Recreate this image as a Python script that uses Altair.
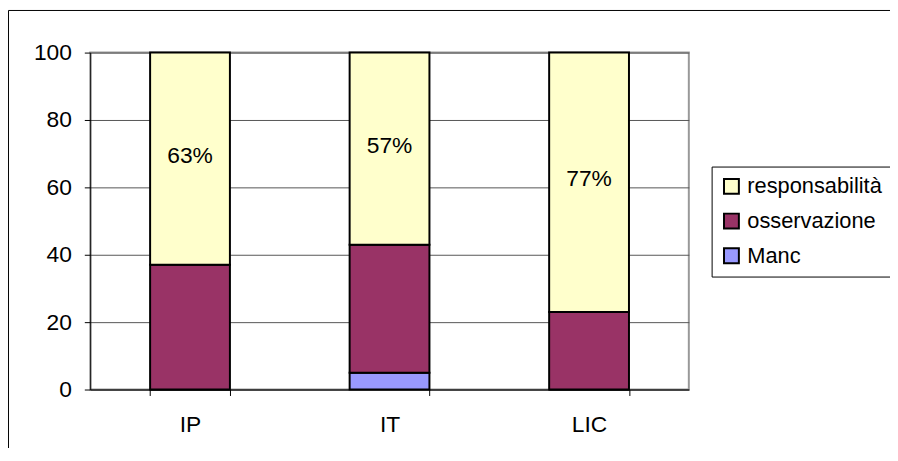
import altair as alt
import pandas as pd

categories = ["IP", "IT", "LIC"]
series = ["Manc", "osservazione", "responsabilità"]
manc = [0, 5, 0]
osservazione = [37, 38, 23]
responsabilita = [63, 57, 77]
y_ticks = [0, 20, 40, 60, 80, 100]

rows = []
for i, c in enumerate(categories):
    for k, (s, vals) in enumerate(zip(series, [manc, osservazione, responsabilita])):
        rows.append({"cat": c, "series": s, "value": vals[i], "ord": k})
df = pd.DataFrame(rows)

FONT = "Liberation Sans"
FS = 23
LFS = 22

legend_order = ["responsabilità", "osservazione", "Manc"]
colors = ["#FFFFCC", "#993366", "#9999FF"]

x_enc = alt.X(
    "cat:N",
    sort=categories,
    title=None,
    scale=alt.Scale(paddingInner=0.6, paddingOuter=0.3),
    axis=alt.Axis(
        labelAngle=0, tickBand="extent", tickSize=6, tickColor="black",
        domainColor="black", labelFont=FONT, labelFontSize=FS, labelColor="black",
        labelPadding=18, grid=False,
    ),
)

bars = alt.Chart(df).mark_bar(stroke="black", strokeWidth=2).encode(
    x=x_enc,
    y=alt.Y(
        "value:Q",
        stack="zero",
        title=None,
        scale=alt.Scale(domain=[0, 100], nice=False),
        axis=alt.Axis(
            values=y_ticks, tickSize=6, tickColor="black", domainColor="black",
            labelFont=FONT, labelFontSize=FS, labelColor="black", labelPadding=13,
            grid=True, gridColor="#555555", gridWidth=1,
        ),
    ),
    color=alt.Color(
        "series:N",
        scale=alt.Scale(domain=legend_order, range=colors),
        legend=alt.Legend(
            title=None, orient="none", legendX=627, legendY=115,
            symbolType="square", symbolSize=225, symbolStrokeColor="black",
            symbolStrokeWidth=2, symbolOpacity=1,
            labelFont=FONT, labelFontSize=LFS, labelColor="black", labelOffset=5,
            rowPadding=11, padding=9, strokeColor="black", fillColor="white",
            labelLimit=300,
        ),
    ),
    order=alt.Order("ord:Q", sort="ascending"),
)

labels = alt.Chart(df).transform_stack(
    stack="value", groupby=["cat"], sort=[alt.SortField("ord", order="ascending")],
    as_=["v0", "v1"],
).transform_filter(
    alt.datum.series == "responsabilità"
).transform_calculate(
    mid="(datum.v0 + datum.v1) / 2",
    lab="datum.value + '%'",
).mark_text(font=FONT, fontSize=FS, color="black", baseline="middle", dy=-3).encode(
    x=alt.X("cat:N", sort=categories),
    y=alt.Y("mid:Q"),
    text="lab:N",
)

frame = alt.Chart(pd.DataFrame({"a": [0]})).mark_rect(
    fillOpacity=0, stroke="black", strokeWidth=1
).encode(
    x=alt.value(-82.5), x2=alt.value(1000), y=alt.value(-42.5), y2=alt.value(1000)
)

chart = alt.layer(frame, bars, labels).properties(
    width=604,
    height=340,
    autosize=alt.AutoSizeParams(type="none"),
    padding={"left": 83, "top": 43, "right": 203, "bottom": 57},
    background="white",
).configure_view(
    stroke="#999999", strokeWidth=2
)

chart.save("out.html", embed_options={"renderer": "svg", "actions": False})
